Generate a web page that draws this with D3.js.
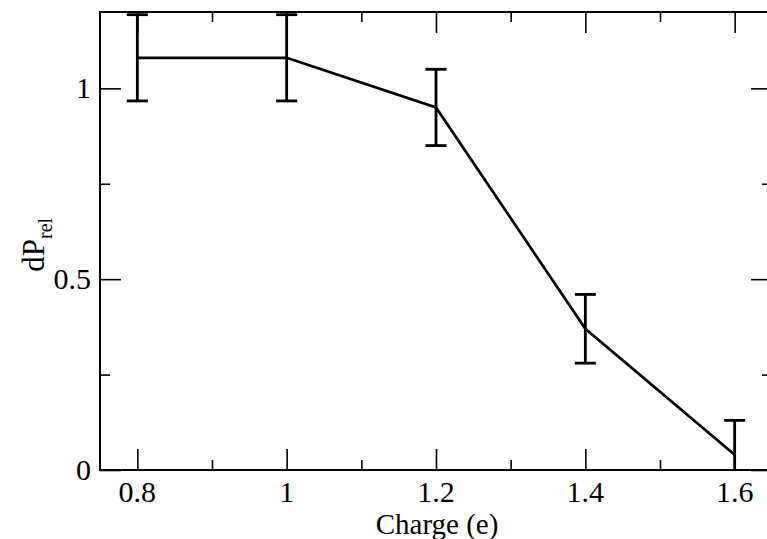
<!DOCTYPE html>
<html>
<head>
<meta charset="utf-8">
<script src="https://cdnjs.cloudflare.com/ajax/libs/d3/7.8.5/d3.min.js"></script>
<style>
  body { margin: 0; background: #fff; }
</style>
</head>
<body>
<div id="chart"></div>
<script>
// data
var charge = [0.8, 1.0, 1.2, 1.4, 1.6];
var dPrel  = [1.08, 1.08, 0.95, 0.37, 0.04];
var errs   = [0.113, 0.113, 0.10, 0.09, 0.09];
var xTicks = [0.8, 1.0, 1.2, 1.4, 1.6];
var yTicks = [0, 0.5, 1];

var width = 767, height = 539;
var margin = {left: 100, right: -5, top: 12, bottom: 69};
var serif = "'Liberation Serif', 'Times New Roman', Times, serif";

var svg = d3.select("#chart").append("svg")
  .attr("width", width).attr("height", height)
  .attr("font-family", serif);

var x = d3.scaleLinear().domain([0.75, 1.65]).range([margin.left, width - margin.right]);
var y = d3.scaleLinear().domain([0, 1.2]).range([height - margin.bottom, margin.top]);

// clip for the marks
svg.append("clipPath").attr("id", "plotclip")
  .append("rect")
  .attr("x", x(0.75)).attr("y", y(1.2))
  .attr("width", x(1.65) - x(0.75)).attr("height", y(0) - y(1.2));

var plot = svg.append("g").attr("clip-path", "url(#plotclip)");

// error bars
var capW = 10.5;
charge.forEach(function(c, i){
  var g = plot.append("g").attr("stroke", "#000").attr("stroke-width", 2.8);
  g.append("line")
    .attr("x1", x(c)).attr("x2", x(c))
    .attr("y1", y(dPrel[i] - errs[i])).attr("y2", y(dPrel[i] + errs[i]));
  g.append("line")
    .attr("x1", x(c) - capW).attr("x2", x(c) + capW)
    .attr("y1", y(dPrel[i] + errs[i])).attr("y2", y(dPrel[i] + errs[i]));
  g.append("line")
    .attr("x1", x(c) - capW).attr("x2", x(c) + capW)
    .attr("y1", y(dPrel[i] - errs[i])).attr("y2", y(dPrel[i] - errs[i]));
});

// main line
var line = d3.line()
  .x(function(d, i){ return x(charge[i]); })
  .y(function(d){ return y(d); });

plot.append("path")
  .datum(dPrel)
  .attr("fill", "none")
  .attr("stroke", "#000")
  .attr("stroke-width", 2.7)
  .attr("d", line);

// axes, ticks point inward on all four sides
var xMinor = d3.range(0.9, 1.65, 0.2);
var yMinor = [0.25, 0.75];

function noDomain(g){ g.select(".domain").remove(); }

svg.append("g").attr("transform", "translate(0," + y(0) + ")")
  .call(d3.axisTop(x).tickValues(xTicks).tickSize(21).tickFormat("")).call(noDomain);
svg.append("g").attr("transform", "translate(0," + y(0) + ")")
  .call(d3.axisTop(x).tickValues(xMinor).tickSize(10).tickFormat("")).call(noDomain);
svg.append("g").attr("transform", "translate(0," + y(1.2) + ")")
  .call(d3.axisBottom(x).tickValues(xTicks).tickSize(21).tickFormat("")).call(noDomain);
svg.append("g").attr("transform", "translate(0," + y(1.2) + ")")
  .call(d3.axisBottom(x).tickValues(xMinor).tickSize(10).tickFormat("")).call(noDomain);

svg.append("g").attr("transform", "translate(" + x(0.75) + ",0)")
  .call(d3.axisRight(y).tickValues(yTicks).tickSize(21).tickFormat("")).call(noDomain);
svg.append("g").attr("transform", "translate(" + x(0.75) + ",0)")
  .call(d3.axisRight(y).tickValues(yMinor).tickSize(10).tickFormat("")).call(noDomain);
svg.append("g").attr("transform", "translate(" + x(1.65) + ",0)")
  .call(d3.axisLeft(y).tickValues(yTicks).tickSize(21).tickFormat("")).call(noDomain);
svg.append("g").attr("transform", "translate(" + x(1.65) + ",0)")
  .call(d3.axisLeft(y).tickValues(yMinor).tickSize(10).tickFormat("")).call(noDomain);

svg.selectAll(".tick line").attr("stroke", "#000").attr("stroke-width", 1.6);

// frame
svg.append("rect")
  .attr("x", x(0.75)).attr("y", y(1.2))
  .attr("width", x(1.65) - x(0.75)).attr("height", y(0) - y(1.2))
  .attr("fill", "none").attr("stroke", "#000").attr("stroke-width", 2);

// tick labels
svg.selectAll(".xlab").data(xTicks).enter().append("text")
  .attr("x", function(d){ return x(d); })
  .attr("y", y(0) + 32)
  .attr("text-anchor", "middle")
  .attr("font-family", serif)
  .attr("font-size", 30)
  .text(function(d){ return d3.format("")(d); });

svg.selectAll(".ylab").data(yTicks).enter().append("text")
  .attr("x", x(0.75) - 9)
  .attr("y", function(d){ return y(d) + 10; })
  .attr("text-anchor", "end")
  .attr("font-family", serif)
  .attr("font-size", 30)
  .text(function(d){ return d3.format("")(d); });

// axis titles
svg.append("text")
  .attr("x", x(1.2) + 1)
  .attr("y", y(0) + 64)
  .attr("text-anchor", "middle")
  .attr("font-family", serif)
  .attr("font-size", 29)
  .text("Charge (e)");

var yt = svg.append("text")
  .attr("transform", "translate(44," + y(0.59) + ") rotate(-90)")
  .attr("text-anchor", "middle")
  .attr("font-family", serif)
  .attr("font-size", 31);
yt.append("tspan").text("dP");
yt.append("tspan").attr("dy", 8).attr("font-size", 20).text("rel");
</script>
</body>
</html>
